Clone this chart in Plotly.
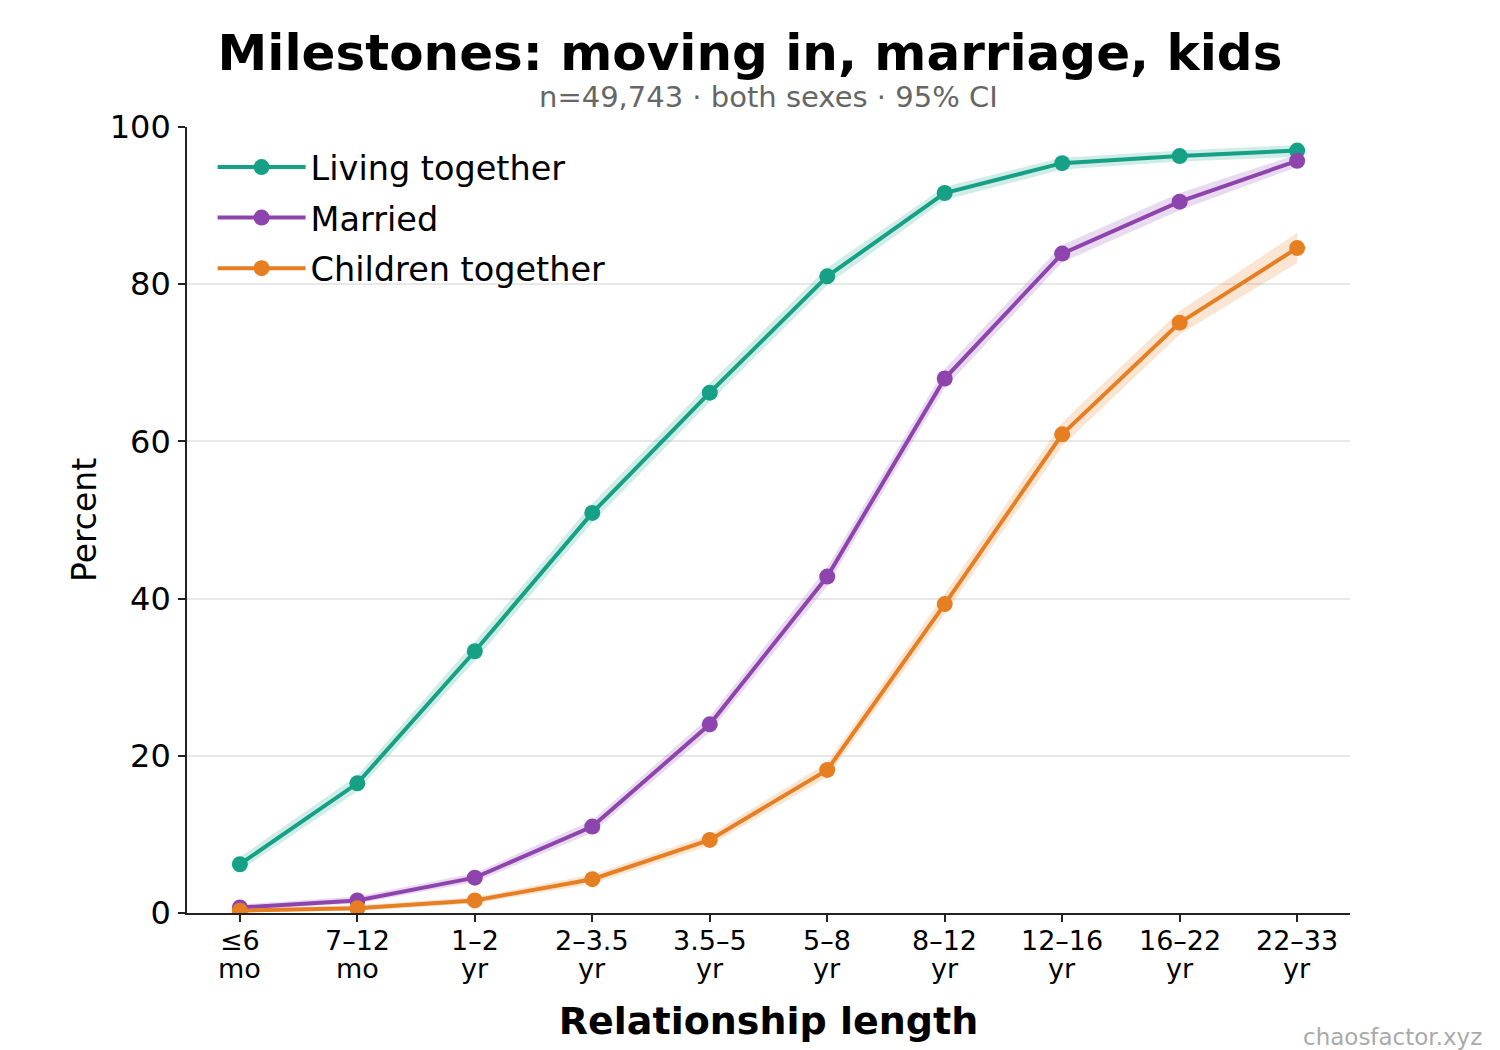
import plotly.graph_objects as go

categories = ["≤6 mo", "7–12 mo", "1–2 yr", "2–3.5 yr", "3.5–5 yr", "5–8 yr", "8–12 yr", "12–16 yr", "16–22 yr", "22–33 yr"]
tick_line1 = ["≤6", "7–12", "1–2", "2–3.5", "3.5–5", "5–8", "8–12", "12–16", "16–22", "22–33"]
tick_line2 = ["mo", "mo", "yr", "yr", "yr", "yr", "yr", "yr", "yr", "yr"]

living = [6.2, 16.5, 33.3, 50.9, 66.2, 81.0, 91.6, 95.4, 96.3, 97.0]
living_lo = [5.4, 15.5, 32.1, 49.7, 65.0, 79.9, 90.7, 94.6, 95.6, 96.2]
living_hi = [7.1, 17.5, 34.5, 52.1, 67.4, 82.1, 92.4, 96.1, 97.0, 97.7]

married = [0.7, 1.6, 4.5, 11.0, 24.0, 42.8, 68.0, 83.9, 90.5, 95.7]
married_lo = [0.4, 1.2, 3.9, 10.2, 23.0, 41.6, 66.8, 82.8, 89.4, 94.9]
married_hi = [1.1, 2.1, 5.1, 11.8, 25.0, 44.0, 69.2, 85.0, 91.6, 96.5]

children = [0.3, 0.6, 1.6, 4.3, 9.3, 18.2, 39.3, 60.9, 75.1, 84.6]
children_lo = [0.1, 0.3, 1.2, 3.7, 8.6, 17.3, 38.0, 59.4, 73.6, 82.7]
children_hi = [0.6, 1.0, 2.0, 4.9, 10.0, 19.1, 40.6, 62.4, 76.6, 86.5]

series = [
    ("Living together", living, living_lo, living_hi, "#16a085", "rgba(22,160,133,0.2)"),
    ("Married", married, married_lo, married_hi, "#8e44ad", "rgba(142,68,173,0.2)"),
    ("Children together", children, children_lo, children_hi, "#e67e22", "rgba(230,126,34,0.2)"),
]

FONT = "DejaVu Sans"
fig = go.Figure()
for name, vals, lo, hi, color, fill in series:
    fig.add_trace(go.Scatter(x=categories, y=hi, mode="lines", line=dict(width=0),
                             showlegend=False, hoverinfo="skip"))
    fig.add_trace(go.Scatter(x=categories, y=lo, mode="lines", line=dict(width=0),
                             fill="tonexty", fillcolor=fill, showlegend=False, hoverinfo="skip"))
for name, vals, lo, hi, color, fill in series:
    fig.add_trace(go.Scatter(x=categories, y=vals, name=name, mode="lines+markers",
                             legendgroup=name,
                             line=dict(color=color, width=4),
                             marker=dict(color=color, size=16)))

fig.update_layout(
    width=1500, height=1050,
    margin=dict(l=187, r=150, t=127, b=137),
    paper_bgcolor="white", plot_bgcolor="white",
    font=dict(family=FONT, color="black", size=30),
    title=dict(text="<b>Milestones: moving in, marriage, kids</b>", x=0.5, xanchor="center",
               y=1 - 52 / 1050, yanchor="middle", yref="container",
               font=dict(size=50, family=FONT, color="black")),
    legend=dict(x=0.022, y=0.985, xanchor="left", yanchor="top", bgcolor="rgba(0,0,0,0)",
                font=dict(size=33.5, family=FONT), itemwidth=88, tracegroupgap=4,
                traceorder="grouped"),
    showlegend=True,
)

fig.update_xaxes(
    type="category", tickmode="array", tickvals=categories, showticklabels=False,
    range=[-0.45, 9.45], showgrid=False, zeroline=False,
    showline=True, linecolor="#222", linewidth=1.6,
    ticks="outside", ticklen=7, tickwidth=1.6, tickcolor="#222",
    title=dict(text="<b>Relationship length</b>", font=dict(size=38, family=FONT), standoff=87),
)
fig.update_yaxes(
    range=[0, 100], tickvals=[0, 20, 40, 60, 80, 100], showgrid=True, gridcolor="#e8e8e8",
    gridwidth=1.5, zeroline=False,
    showline=True, linecolor="#222", linewidth=1.6,
    ticks="outside", ticklen=7, tickwidth=1.6, tickcolor="#222",
    tickfont=dict(size=32, family=FONT), ticklabelstandoff=1,
    title=dict(text="Percent", font=dict(size=33, family=FONT), standoff=3),
)

for cat, l1, l2 in zip(categories, tick_line1, tick_line2):
    fig.add_annotation(text=l1, x=cat, xref="x", yref="paper", y=(913 - 940) / 786,
                       yanchor="middle", showarrow=False, font=dict(size=27, family=FONT, color="black"))
    fig.add_annotation(text=l2, x=cat, xref="x", yref="paper", y=(913 - 968) / 786,
                       yanchor="middle", showarrow=False, font=dict(size=27, family=FONT, color="black"))

fig.add_annotation(text="n=49,743 · both sexes · 95% CI", xref="paper", yref="paper",
                   x=0.5, y=1 + (127 - 97) / 786, xanchor="center", yanchor="middle", showarrow=False,
                   font=dict(size=29, family=FONT, color="#666666"))
fig.add_annotation(text="chaosfactor.xyz", xref="paper", yref="paper",
                   x=(1484 - 187) / 1163, y=(913 - 1037) / 786, xanchor="right", yanchor="middle",
                   showarrow=False, font=dict(size=23, family=FONT, color="#aaaaaa"))

fig.write_html("out.html")
